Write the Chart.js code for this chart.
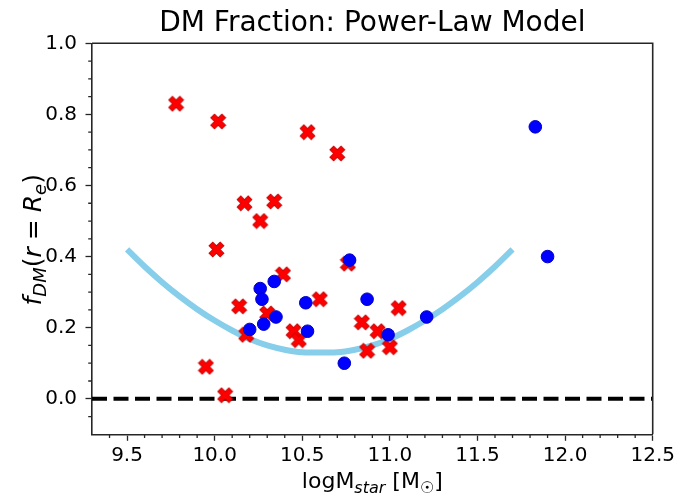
<!DOCTYPE html>
<html lang="en">
<head>
<meta charset="UTF-8">
<title>DM Fraction: Power-Law Model</title>
<script src="https://cdn.jsdelivr.net/npm/chart.js@4"></script>
<style>
  html, body { margin: 0; padding: 0; background: #fff; }
  #dmChart { display: block; }
</style>
</head>
<body>
<canvas id="dmChart" width="682" height="496"></canvas>
<script>
// axis limits and labelled ticks
const X_MIN = 9.3, X_MAX = 12.5;
const Y_MIN = -0.1, Y_MAX = 1.0;
const xTicks = [9.5, 10.0, 10.5, 11.0, 11.5, 12.0, 12.5];
const xTickLabels = ["9.5", "10.0", "10.5", "11.0", "11.5", "12.0", "12.5"];
const yTicks = [0.0, 0.2, 0.4, 0.6, 0.8, 1.0];
const yTickLabels = ["0.0", "0.2", "0.4", "0.6", "0.8", "1.0"];

// red crosses: stellar mass vs dark matter fraction
const redMass = [9.78, 10.02, 10.53, 10.70, 10.17, 10.34, 10.26, 10.01, 10.39, 10.76, 10.14, 10.60,
                 11.05, 10.30, 10.18, 10.45, 10.48, 10.84, 10.93, 10.87, 11.00, 9.95, 10.06];
const redFdm  = [0.83, 0.78, 0.75, 0.69, 0.55, 0.555, 0.50, 0.42, 0.35, 0.38, 0.26, 0.28,
                 0.255, 0.24, 0.18, 0.19, 0.165, 0.215, 0.19, 0.135, 0.145, 0.09, 0.01];

// blue circles
const blueMass = [10.77, 10.34, 10.26, 10.27, 10.52, 10.87, 10.35, 10.28, 10.20, 10.53, 10.99, 10.74, 11.21, 11.83, 11.90];
const blueFdm  = [0.39, 0.33, 0.31, 0.28, 0.27, 0.28, 0.23, 0.21, 0.195, 0.19, 0.18, 0.10, 0.23, 0.765, 0.40];

// power-law model curve
const modelMass = [9.5, 9.6, 9.7, 9.8, 9.9, 10.0, 10.1, 10.2, 10.3, 10.4, 10.5, 10.6,
                   10.7, 10.8, 10.9, 11.0, 11.1, 11.2, 11.3, 11.4, 11.5, 11.6, 11.7];
const modelFdm  = [0.42, 0.372, 0.328, 0.288, 0.252, 0.22, 0.192, 0.168, 0.15, 0.138, 0.131, 0.13,
                   0.131, 0.138, 0.15, 0.168, 0.192, 0.22, 0.252, 0.288, 0.328, 0.372, 0.42];

const FONT = "'DejaVu Sans', sans-serif";
const SPINE = '#262626';

function toPoints(xs, ys) {
  return xs.map((x, i) => ({ x: x, y: ys[i] }));
}

// filled "X" marker drawn once into a small canvas
function crossMarker(size, fill, edge) {
  const c = document.createElement('canvas');
  c.width = c.height = size;
  const g = c.getContext('2d');
  const h = size / 2, arm = 7.8, w = 2.6;
  g.translate(h, h);
  g.rotate(Math.PI / 4);
  g.beginPath();
  g.moveTo(-w, -arm); g.lineTo(w, -arm); g.lineTo(w, -w); g.lineTo(arm, -w);
  g.lineTo(arm, w); g.lineTo(w, w); g.lineTo(w, arm); g.lineTo(-w, arm);
  g.lineTo(-w, w); g.lineTo(-arm, w); g.lineTo(-arm, -w); g.lineTo(-w, -w);
  g.closePath();
  g.fillStyle = fill;
  g.fill();
  g.lineWidth = 1;
  g.strokeStyle = edge;
  g.stroke();
  return c;
}

// draw a row of text pieces (normal / italic / subscript) centred on 0
function drawRuns(ctx, runs) {
  let total = 0;
  runs.forEach(r => {
    ctx.font = r.font;
    r.w = ctx.measureText(r.text).width + (r.gap || 0) * 2;
    total += r.w;
  });
  let x = -total / 2;
  runs.forEach(r => {
    ctx.font = r.font;
    ctx.fillText(r.text, x + (r.gap || 0), r.dy || 0);
    x += r.w;
  });
}

const decorations = {
  id: 'decorations',
  afterDatasetsDraw(chart) {
    const ctx = chart.ctx, a = chart.chartArea;
    const xs = chart.scales.x, ys = chart.scales.y;
    ctx.save();
    ctx.strokeStyle = SPINE;
    ctx.lineWidth = 1.3;
    // minor ticks
    ctx.beginPath();
    for (let i = 94; i <= 124; i++) {
      if (i % 5 === 0) continue;
      const px = xs.getPixelForValue(i / 10);
      ctx.moveTo(px, a.bottom);
      ctx.lineTo(px, a.bottom + 3.8);
    }
    for (let j = -1; j <= 19; j++) {
      if (j % 4 === 0) continue;
      const py = ys.getPixelForValue(j / 20);
      ctx.moveTo(a.left, py);
      ctx.lineTo(a.left - 3.8, py);
    }
    ctx.stroke();
    // top and right spines
    ctx.lineWidth = 1.6;
    ctx.beginPath();
    ctx.moveTo(a.left, a.top);
    ctx.lineTo(a.right, a.top);
    ctx.lineTo(a.right, a.bottom);
    ctx.stroke();
    ctx.restore();
  },
  afterDraw(chart) {
    const ctx = chart.ctx, a = chart.chartArea;
    const cx = (a.left + a.right) / 2;
    ctx.save();
    ctx.fillStyle = '#000';
    ctx.textBaseline = 'alphabetic';

    // title
    ctx.save();
    ctx.translate(cx, 31);
    drawRuns(ctx, [{ text: 'DM Fraction: Power-Law Model', font: '28px ' + FONT }]);
    ctx.restore();

    // x axis label
    ctx.save();
    ctx.translate(cx, 488);
    drawRuns(ctx, [
      { text: 'logM', font: '22px ' + FONT },
      { text: 'star', font: 'italic 16px ' + FONT, dy: 5 },
      { text: ' [M', font: '22px ' + FONT },
      { text: '\u2609', font: '16px ' + FONT, dy: 5 },
      { text: ']', font: '22px ' + FONT }
    ]);
    ctx.restore();

    // y axis label, rotated
    ctx.save();
    ctx.translate(41, (a.top + a.bottom) / 2 + 1);
    ctx.rotate(-Math.PI / 2);
    drawRuns(ctx, [
      { text: 'f', font: 'italic 25px ' + FONT },
      { text: 'DM', font: 'italic 18px ' + FONT, dy: 5 },
      { text: '(', font: '25px ' + FONT },
      { text: 'r', font: 'italic 25px ' + FONT },
      { text: '=', font: '25px ' + FONT, gap: 7 },
      { text: 'R', font: 'italic 25px ' + FONT },
      { text: 'e', font: 'italic 18px ' + FONT, dy: 5 },
      { text: ')', font: '25px ' + FONT }
    ]);
    ctx.restore();
    ctx.restore();
  }
};

const tickFont = { family: FONT, size: 20 };

new Chart(document.getElementById('dmChart'), {
  type: 'scatter',
  data: {
    datasets: [
      {
        label: 'blue',
        data: toPoints(blueMass, blueFdm),
        pointStyle: 'circle',
        pointRadius: 6.3,
        backgroundColor: '#0000ff',
        borderColor: '#0000c8',
        borderWidth: 1,
        order: 0
      },
      {
        label: 'red',
        data: toPoints(redMass, redFdm),
        pointStyle: crossMarker(17, '#ff0000', '#cc0000'),
        pointRadius: 8,
        order: 1
      },
      {
        type: 'line',
        label: 'model',
        data: toPoints(modelMass, modelFdm),
        borderColor: '#87ceeb',
        borderWidth: 6,
        pointRadius: 0,
        cubicInterpolationMode: 'monotone',
        fill: false,
        order: 2
      },
      {
        type: 'line',
        label: 'zero',
        data: toPoints([X_MIN, X_MAX], [0, 0]),
        borderColor: '#000',
        borderWidth: 4,
        borderDash: [15, 6.5],
        pointRadius: 0,
        fill: false,
        order: 3
      }
    ]
  },
  options: {
    responsive: false,
    animation: false,
    layout: { padding: { left: 0, top: 43.3, right: 29.3, bottom: 0 } },
    plugins: {
      legend: { display: false },
      tooltip: { enabled: false },
      title: { display: false }
    },
    scales: {
      x: {
        type: 'linear',
        min: X_MIN,
        max: X_MAX,
        afterBuildTicks: s => { s.ticks = xTicks.map(v => ({ value: v })); },
        afterFit: s => { s.height = 61.7; },
        ticks: {
          callback: (v, i) => xTickLabels[i],
          font: tickFont,
          color: '#000',
          padding: 3,
          maxRotation: 0,
          autoSkip: false
        },
        grid: { drawOnChartArea: false, tickLength: 6.5, tickColor: SPINE, tickWidth: 1.3 },
        border: { display: true, color: SPINE, width: 1.6 }
      },
      y: {
        type: 'linear',
        min: Y_MIN,
        max: Y_MAX,
        afterBuildTicks: s => { s.ticks = yTicks.map(v => ({ value: v })); },
        afterFit: s => { s.width = 92; },
        ticks: {
          callback: (v, i) => yTickLabels[i],
          font: tickFont,
          color: '#000',
          padding: 8.5,
          autoSkip: false
        },
        grid: { drawOnChartArea: false, tickLength: 6.5, tickColor: SPINE, tickWidth: 1.3 },
        border: { display: true, color: SPINE, width: 1.6 }
      }
    }
  },
  plugins: [decorations]
});
</script>
</body>
</html>
